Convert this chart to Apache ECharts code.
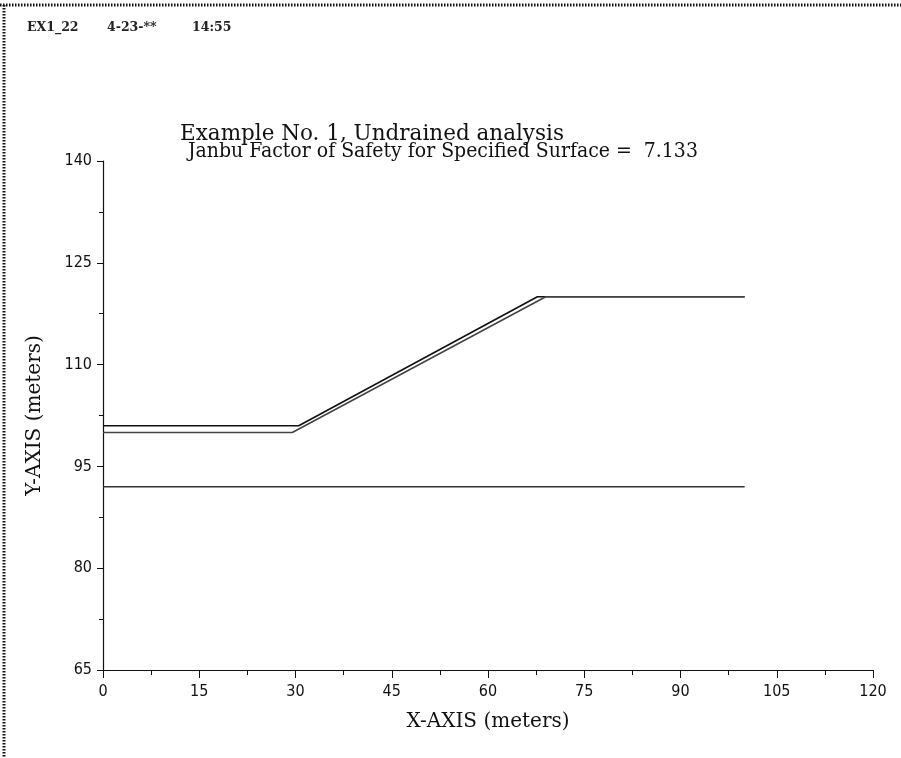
<!DOCTYPE html>
<html>
<head>
<meta charset="utf-8">
<script src="https://cdn.jsdelivr.net/npm/echarts@6/dist/echarts.min.js"></script>
<style>
html,body{margin:0;padding:0;background:#fff;}
#c{width:901px;height:758px;}
</style>
</head>
<body>
<div id="c"></div>
<script>
// Data
var xTicks = [0, 15, 30, 45, 60, 75, 90, 105, 120];
var yTicks = [65, 80, 95, 110, 125, 140];
var groundX = [0, 30.5, 67.7, 100];
var groundY = [101, 101, 120, 120];
var slipX = [0, 29.5, 69, 100];
var slipY = [100, 100, 120, 120];
var baseX = [0, 100];
var baseY = [92, 92];
var headerTexts = ['EX1_22', '4-23-**', '14:55'];

function pairs(xs, ys) { return xs.map(function (x, i) { return [x, ys[i]]; }); }

var tickFont = "'Liberation Sans Narrow','DejaVu Sans Condensed',sans-serif";
var headerLeft = [27, 107, 192];
var chart = echarts.init(document.getElementById('c'));
var graphics = [
  { type: 'line', shape: { x1: 0, y1: 5, x2: 901, y2: 5 }, style: { stroke: '#111', lineWidth: 3, lineDash: [1.5, 1.5] } },
  { type: 'line', shape: { x1: 4, y1: 5, x2: 4, y2: 758 }, style: { stroke: '#111', lineWidth: 3, lineDash: [1.5, 1.5] } }
];
headerTexts.forEach(function (t, i) {
  graphics.push({ type: 'text', left: headerLeft[i], top: 21,
    style: { text: t, fontFamily: 'DejaVu Serif', fontSize: 12.5, fontWeight: 'bold', fill: '#222' } });
});
chart.setOption({
  animation: false,
  backgroundColor: '#fff',
  title: [
    { text: 'Example No. 1, Undrained analysis', left: 175, top: 118,
      textStyle: { fontFamily: 'DejaVu Serif', fontSize: 21.5, fontWeight: 'normal', color: '#111' } },
    { text: 'Janbu Factor of Safety for Specified Surface =  7.133', left: 183, top: 136,
      textStyle: { fontFamily: "'DejaVu Serif Condensed','DejaVu Serif',serif", fontSize: 21, fontWeight: 'normal', color: '#111' } }
  ],
  grid: { left: 103, right: 28, top: 161, bottom: 88, containLabel: false },
  xAxis: {
    type: 'value', min: xTicks[0], max: xTicks[xTicks.length - 1], interval: 15,
    name: 'X-AXIS (meters)', nameLocation: 'middle', nameGap: 42,
    nameTextStyle: { fontFamily: 'DejaVu Serif', fontSize: 20, color: '#111' },
    axisLine: { lineStyle: { color: '#111', width: 1.2 } },
    axisTick: { inside: false, length: 8, lineStyle: { color: '#111' } },
    minorTick: { show: true, splitNumber: 2, length: 5, lineStyle: { color: '#111' } },
    axisLabel: { margin: 14, fontFamily: tickFont, fontSize: 16, color: '#111' },
    splitLine: { show: false }
  },
  yAxis: {
    type: 'value', min: yTicks[0], max: yTicks[yTicks.length - 1], interval: 15,
    name: 'Y-AXIS (meters)', nameLocation: 'middle', nameGap: 58, nameRotate: 90,
    nameTextStyle: { fontFamily: 'DejaVu Serif', fontSize: 20, color: '#111' },
    axisLine: { show: true, lineStyle: { color: '#111', width: 1.2 } },
    axisTick: { show: true, inside: false, length: 6, lineStyle: { color: '#111' } },
    minorTick: { show: true, splitNumber: 2, length: 4, lineStyle: { color: '#111' } },
    axisLabel: { margin: 11, fontFamily: tickFont, fontSize: 16, color: '#111' },
    splitLine: { show: false }
  },
  graphic: graphics,
  series: [
    { type: 'line', data: pairs(groundX, groundY), symbol: 'none', lineStyle: { color: '#111', width: 1.6 } },
    { type: 'line', data: pairs(slipX, slipY), symbol: 'none', lineStyle: { color: '#444', width: 1.6 } },
    { type: 'line', data: pairs(baseX, baseY), symbol: 'none', lineStyle: { color: '#333', width: 1.4 } }
  ]
});
</script>
</body>
</html>
